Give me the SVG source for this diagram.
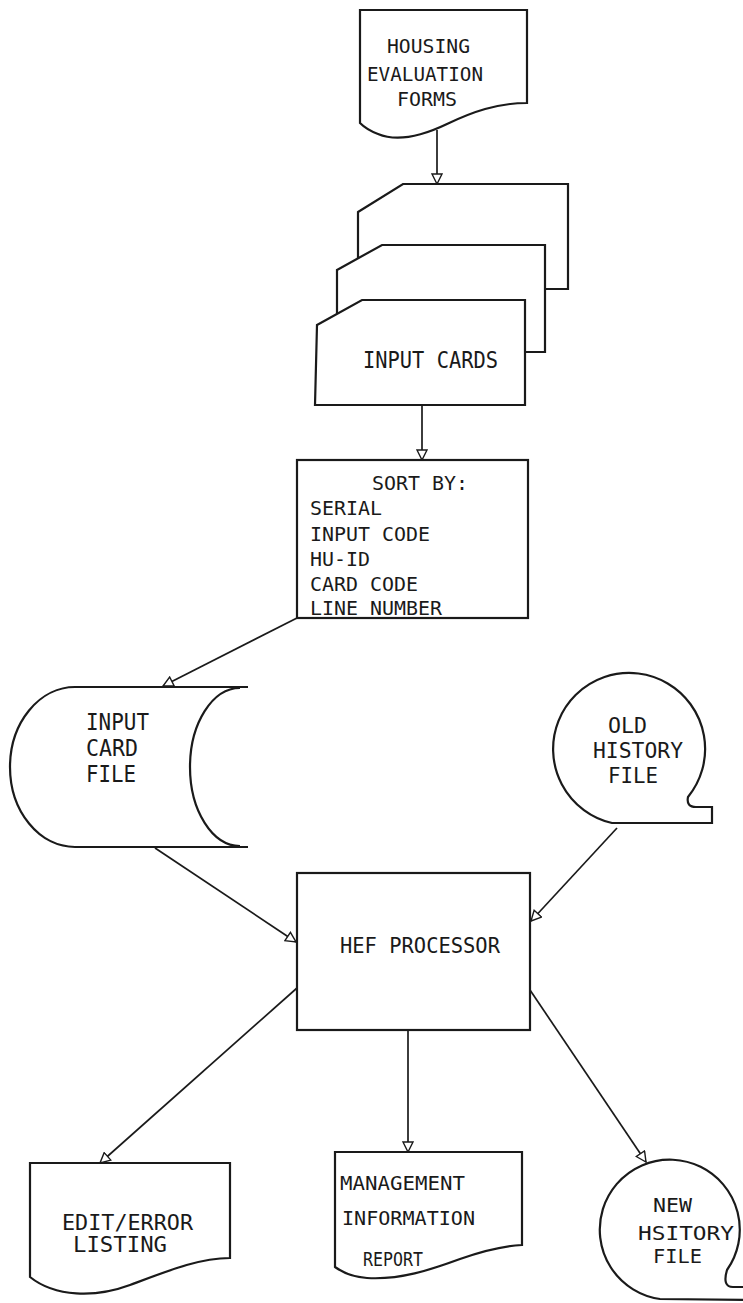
<svg xmlns="http://www.w3.org/2000/svg" width="743" height="1303" viewBox="0 0 743 1303">
<defs>
<marker id="ah" viewBox="0 0 12 12" refX="11" refY="6" markerWidth="12" markerHeight="12" markerUnits="userSpaceOnUse" orient="auto">
<path d="M1,1 L11,6 L1,11 Z" fill="#fff" stroke="#1a1a1a" stroke-width="1.4"/>
</marker>
<style>
.s{fill:#fff;stroke:#1a1a1a;stroke-width:2.2;stroke-linejoin:miter}
.c{fill:none;stroke:#1a1a1a;stroke-width:1.7;marker-end:url(#ah)}
text{font-family:"DejaVu Sans Mono","Liberation Mono",monospace;fill:#1a1a1a}
.t{font-size:20px}
.b{font-size:23px}
.m{font-size:21px}
.n{font-size:19px}
</style>
</defs>
<rect width="743" height="1303" fill="#fff"/>

<g id="connectors">
<path class="c" d="M437,130 V184"/>
<path class="c" d="M422,405 V460"/>
<path class="c" d="M297,618 L163,686"/>
<path class="c" d="M155,848 L296,942"/>
<path class="c" d="M617,828 L531,921"/>
<path class="c" d="M297,988 L100,1163"/>
<path class="c" d="M408,1030 V1152"/>
<path class="c" d="M530,990 L646,1162"/>
</g>

<g id="housing-forms">
<path class="s" d="M360,10 H527 V103 C497,103 472,112 447,124 C422,136 397,142 378,134 C370,131 364,127 360,123 Z"/>
<text class="t" x="387" y="53" textLength="83" lengthAdjust="spacingAndGlyphs">HOUSING</text>
<text class="t" x="367" y="81" textLength="116" lengthAdjust="spacingAndGlyphs">EVALUATION</text>
<text class="t" x="397" y="106" textLength="60" lengthAdjust="spacingAndGlyphs">FORMS</text>
</g>

<g id="input-cards">
<path class="s" d="M358,212 L403,184 H568 V289 H548 L358,289 Z"/>
<path class="s" d="M337,270 L382,245 H545 V352 H337 Z"/>
<path class="s" d="M317,325 L362,300 H525 V405 H315 Z"/>
<text class="b" x="363" y="368" textLength="135" lengthAdjust="spacingAndGlyphs">INPUT CARDS</text>
</g>

<g id="sort">
<rect class="s" x="297" y="460" width="231" height="158"/>
<text class="n" x="372" y="490" textLength="96" lengthAdjust="spacingAndGlyphs">SORT BY:</text>
<text class="n" x="310" y="515" textLength="72" lengthAdjust="spacingAndGlyphs">SERIAL</text>
<text class="n" x="310" y="541" textLength="120" lengthAdjust="spacingAndGlyphs">INPUT CODE</text>
<text class="n" x="310" y="566" textLength="60" lengthAdjust="spacingAndGlyphs">HU-ID</text>
<text class="n" x="310" y="591" textLength="108" lengthAdjust="spacingAndGlyphs">CARD CODE</text>
<text class="n" x="310" y="615" textLength="132" lengthAdjust="spacingAndGlyphs">LINE NUMBER</text>
</g>

<g id="input-card-file">
<path class="s" d="M75,687 H248 M240,688 A50,79 0 0 0 240,846 M75,687 A65,80 0 0 0 75,847 H248"/>
<text class="b" x="86" y="730" textLength="63" lengthAdjust="spacingAndGlyphs">INPUT</text>
<text class="b" x="86" y="756" textLength="52" lengthAdjust="spacingAndGlyphs">CARD</text>
<text class="b" x="86" y="782" textLength="50" lengthAdjust="spacingAndGlyphs">FILE</text>
</g>

<g id="old-history-file">
<path class="s" d="M612,823 A76,76 0 1 1 688,797 Q686,807 696,807 H712 V823 Z"/>
<text class="m" x="608" y="733" textLength="39" lengthAdjust="spacingAndGlyphs">OLD</text>
<text class="m" x="593" y="758" textLength="90" lengthAdjust="spacingAndGlyphs">HISTORY</text>
<text class="m" x="608" y="783" textLength="50" lengthAdjust="spacingAndGlyphs">FILE</text>
</g>

<g id="hef-processor">
<rect class="s" x="297" y="873" width="233" height="157"/>
<text class="m" x="340" y="953" textLength="160" lengthAdjust="spacingAndGlyphs">HEF PROCESSOR</text>
</g>

<g id="edit-error-listing">
<path class="s" d="M30,1163 H230 V1258 C200,1258 170,1270 130,1285 C95,1298 55,1297 30,1277 Z"/>
<text class="m" x="62" y="1230" textLength="131" lengthAdjust="spacingAndGlyphs">EDIT/ERROR</text>
<text class="m" x="73" y="1252" textLength="94" lengthAdjust="spacingAndGlyphs">LISTING</text>
</g>

<g id="management-report">
<path class="s" d="M335,1152 H522 V1245 C500,1246 480,1252 460,1259 C430,1270 400,1280 367,1278 C352,1277 342,1272 335,1267 Z"/>
<text class="n" x="340" y="1190" textLength="125" lengthAdjust="spacingAndGlyphs">MANAGEMENT</text>
<text class="n" x="342" y="1225" textLength="133" lengthAdjust="spacingAndGlyphs">INFORMATION</text>
<text class="n" x="363" y="1266" textLength="60" lengthAdjust="spacingAndGlyphs">REPORT</text>
</g>

<g id="new-history-file">
<path class="s" d="M660,1299 A70,70 0 1 1 727,1270 Q722,1287 733,1287 H746 V1300 Z"/>
<text class="n" x="653" y="1212" textLength="39" lengthAdjust="spacingAndGlyphs">NEW</text>
<text class="n" x="638" y="1240" textLength="96" lengthAdjust="spacingAndGlyphs">HSITORY</text>
<text class="n" x="653" y="1263" textLength="49" lengthAdjust="spacingAndGlyphs">FILE</text>
</g>
</svg>
